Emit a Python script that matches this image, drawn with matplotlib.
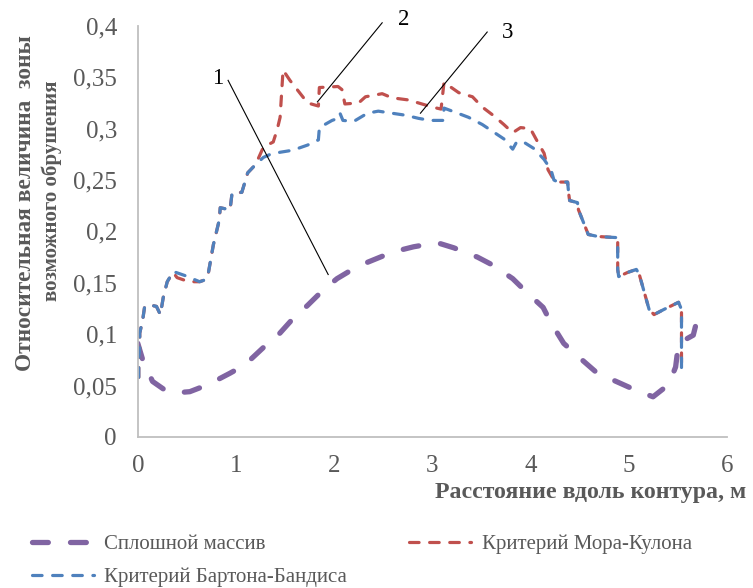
#!/usr/bin/env python
# relative collapse zone vs distance along contour, three criteria
import matplotlib
matplotlib.use("Agg")
import matplotlib.pyplot as plt

# purple - "Сплошной массив"
x_solid = [0.0, 0.05, 0.15, 0.3, 0.4, 0.53, 0.72, 0.94, 1.09, 1.28, 1.42, 1.58, 1.73,
           1.89, 2.03, 2.24, 2.6, 2.81, 3.05, 3.22, 3.46, 3.62, 3.82, 3.97, 4.13, 4.21,
           4.34, 4.49, 4.67, 4.85, 5.06, 5.25, 5.41, 5.48, 5.51, 5.66, 5.72]
y_solid = [0.091, 0.075, 0.054, 0.044, 0.043, 0.044, 0.051, 0.062, 0.070, 0.087, 0.098,
           0.115, 0.128, 0.143, 0.154, 0.166, 0.180, 0.185, 0.189, 0.184, 0.175, 0.167,
           0.154, 0.140, 0.126, 0.111, 0.091, 0.078, 0.063, 0.055, 0.046, 0.039, 0.051,
           0.068, 0.091, 0.099, 0.122]

# red - "Критерий Мора-Кулона"
x_mohr = [0.01, 0.01, 0.02, 0.02, 0.05, 0.07, 0.14, 0.19, 0.23, 0.26, 0.30, 0.36, 0.40,
          0.52, 0.63, 0.69, 0.72, 0.77, 0.83, 0.84, 0.94, 0.96, 1.06, 1.12, 1.20, 1.28,
          1.38, 1.42, 1.45, 1.48, 1.55, 1.73, 1.84, 1.85, 2.04, 2.08, 2.11, 2.25, 2.32,
          2.49, 2.59, 2.75, 2.86, 3.00, 3.09, 3.12, 3.27, 3.41, 3.51, 3.62, 3.73, 3.82,
          3.90, 4.00, 4.08, 4.14, 4.18, 4.24, 4.28, 4.38, 4.39, 4.40, 4.48, 4.49, 4.59,
          4.69, 4.87, 4.89, 4.89, 4.90, 4.99, 5.08, 5.11, 5.21, 5.26, 5.36, 5.51, 5.54,
          5.54]
y_mohr = [0.058, 0.073, 0.088, 0.101, 0.114, 0.127, 0.128, 0.127, 0.119, 0.136, 0.151,
          0.160, 0.155, 0.151, 0.151, 0.153, 0.160, 0.187, 0.211, 0.223, 0.221, 0.237,
          0.238, 0.257, 0.265, 0.282, 0.287, 0.299, 0.311, 0.357, 0.347, 0.325, 0.322,
          0.340, 0.341, 0.338, 0.324, 0.325, 0.331, 0.334, 0.330, 0.328, 0.325, 0.321,
          0.319, 0.345, 0.335, 0.331, 0.321, 0.313, 0.304, 0.296, 0.301, 0.300, 0.286,
          0.276, 0.260, 0.250, 0.248, 0.248, 0.237, 0.230, 0.228, 0.221, 0.197, 0.195,
          0.194, 0.189, 0.163, 0.156, 0.160, 0.163, 0.158, 0.124, 0.119, 0.124, 0.131,
          0.124, 0.068]

# blue - "Критерий Бартона-Бандиса"
x_barton = [0.01, 0.01, 0.02, 0.02, 0.05, 0.07, 0.14, 0.19, 0.23, 0.26, 0.30, 0.36, 0.48,
            0.63, 0.69, 0.72, 0.77, 0.83, 0.84, 0.94, 0.96, 1.06, 1.12, 1.20, 1.28, 1.35,
            1.45, 1.58, 1.73, 1.84, 1.85, 1.98, 2.04, 2.06, 2.09, 2.20, 2.34, 2.45, 2.59,
            2.73, 2.86, 2.98, 3.11, 3.12, 3.26, 3.37, 3.51, 3.62, 3.73, 3.82, 3.86, 3.93,
            4.03, 4.14, 4.21, 4.24, 4.28, 4.38, 4.39, 4.40, 4.48, 4.49, 4.59, 4.69, 4.87,
            4.89, 4.89, 4.90, 4.99, 5.08, 5.11, 5.21, 5.26, 5.36, 5.51, 5.54, 5.54]
y_barton = [0.058, 0.073, 0.088, 0.101, 0.114, 0.127, 0.128, 0.127, 0.119, 0.136, 0.151,
            0.161, 0.157, 0.151, 0.153, 0.160, 0.187, 0.211, 0.223, 0.221, 0.237, 0.238,
            0.257, 0.265, 0.272, 0.275, 0.277, 0.279, 0.284, 0.289, 0.301, 0.308, 0.310,
            0.315, 0.308, 0.307, 0.315, 0.317, 0.315, 0.313, 0.310, 0.308, 0.308, 0.320,
            0.315, 0.311, 0.304, 0.297, 0.290, 0.280, 0.287, 0.287, 0.281, 0.270, 0.260,
            0.250, 0.248, 0.248, 0.237, 0.230, 0.228, 0.221, 0.197, 0.195, 0.194, 0.189,
            0.163, 0.156, 0.160, 0.163, 0.158, 0.124, 0.119, 0.124, 0.131, 0.124, 0.058]

series_names = ["Сплошной массив", "Критерий Мора-Кулона", "Критерий Бартона-Бандиса"]

# callout numbers with their leader lines (start, end)
callout_text = ["1", "2", "3"]
callout_text_xy = [(0.81, 0.349), (2.71, 0.406), (3.77, 0.394)]
callout_line_x = [(0.92, 1.94), (2.49, 1.83), (3.56, 2.88)]
callout_line_y = [(0.347, 0.158), (0.403, 0.326), (0.394, 0.315)]

yticks = [0, 0.05, 0.1, 0.15, 0.2, 0.25, 0.3, 0.35, 0.4]
ytick_labels = ["0", "0,05", "0,1", "0,15", "0,2", "0,25", "0,3", "0,35", "0,4"]
xticks = [0, 1, 2, 3, 4, 5, 6]

plt.rcParams['font.family'] = ['Liberation Serif', 'DejaVu Serif']
grey = '#595959'

fig = plt.figure(figsize=(7.53, 5.88), dpi=100)
ax = fig.add_axes([0.183, 0.257, 0.782, 0.699])

ax.plot(x_solid, y_solid, color='#8064A2', lw=3.8, dashes=(3, 4.2),
        dash_capstyle='round', solid_capstyle='round', label=series_names[0])
ax.plot(x_mohr, y_mohr, color='#C0504D', lw=2.3, dashes=(3, 3.3),
        dash_capstyle='round', label=series_names[1])
ax.plot(x_barton, y_barton, color='#4F81BD', lw=2.3, dashes=(3, 3.3),
        dash_capstyle='round', label=series_names[2])

for t, (tx, ty), lx, ly in zip(callout_text, callout_text_xy, callout_line_x, callout_line_y):
    ax.plot(lx, ly, color='black', lw=0.8, clip_on=False)
    ax.text(tx, ty, t, fontsize=16.5, color='black', ha='center', va='center', clip_on=False)

ax.set_xlim(0, 6)
ax.set_ylim(0, 0.4)
ax.set_xticks(xticks)
ax.set_yticks(yticks)
ax.set_yticklabels(ytick_labels)
ax.tick_params(length=0, labelsize=18, colors=grey)
ax.tick_params(axis='y', pad=15)
ax.tick_params(axis='x', pad=13)
for s in ['top', 'right']:
    ax.spines[s].set_visible(False)
for s in ['left', 'bottom']:
    ax.spines[s].set_color('#BFBFBF')
    ax.spines[s].set_linewidth(1.3)

fig.text(0.034, 0.655, "Относительная величина  зоны", rotation=90, fontsize=16.8,
         fontweight='bold', color=grey, ha='center', va='center')
fig.text(0.069, 0.675, "возможного обрушения", rotation=90, fontsize=15,
         fontweight='bold', color=grey, ha='center', va='center')
fig.text(0.578, 0.162, "Расстояние вдоль контура, м", fontsize=17.2,
         fontweight='bold', color=grey, ha='left', va='center')

h, l = ax.get_legend_handles_labels()
fig.legend([h[0], h[2], h[1]], [l[0], l[2], l[1]], ncol=2, loc='lower left',
           bbox_to_anchor=(0.017, -0.03), frameon=False, fontsize=15,
           labelcolor=grey, handlelength=3.0, handletextpad=0.5,
           columnspacing=2.95, labelspacing=0.62)

fig.savefig("out.png", dpi=100)
